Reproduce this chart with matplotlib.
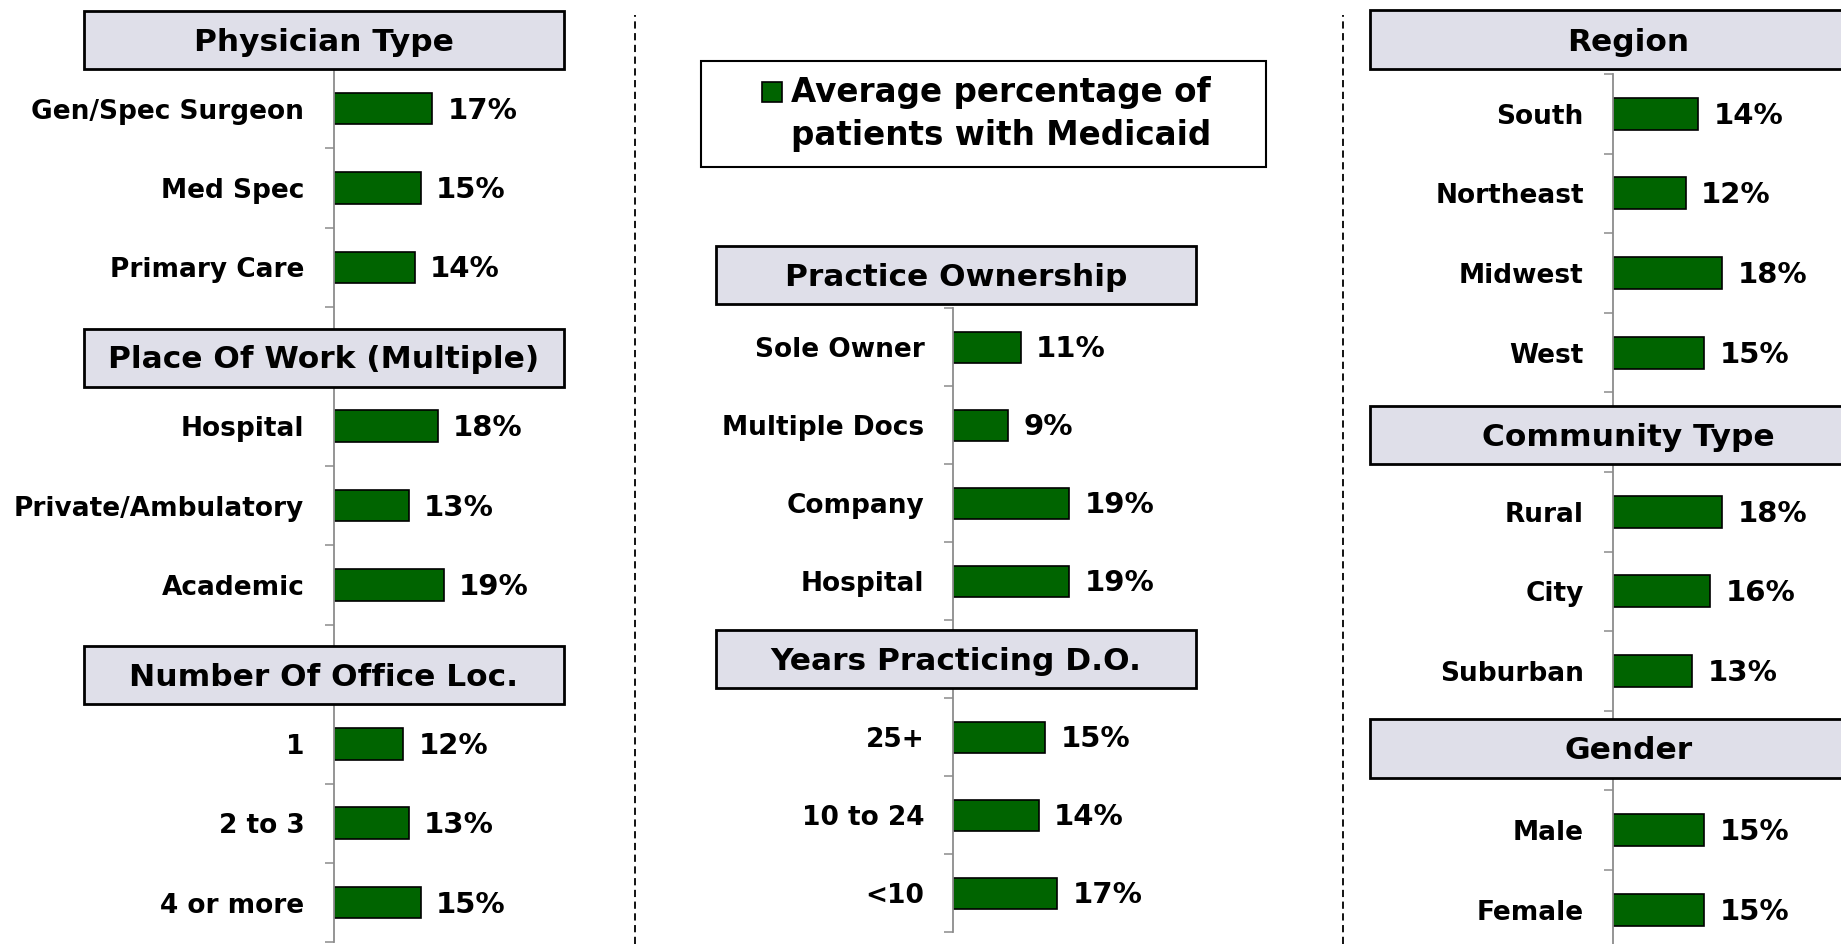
import matplotlib.pyplot as plt
from matplotlib.patches import Rectangle

# values (percent of patients with Medicaid)
phys_labels = ["Gen/Spec Surgeon", "Med Spec", "Primary Care"]
phys_vals = [17, 15, 14]
work_labels = ["Hospital", "Private/Ambulatory", "Academic"]
work_vals = [18, 13, 19]
office_labels = ["1", "2 to 3", "4 or more"]
office_vals = [12, 13, 15]

own_labels = ["Sole Owner", "Multiple Docs", "Company", "Hospital"]
own_vals = [11, 9, 19, 19]
years_labels = ["25+", "10 to 24", "<10"]
years_vals = [15, 14, 17]

region_labels = ["South", "Northeast", "Midwest", "West"]
region_vals = [14, 12, 18, 15]
community_labels = ["Rural", "City", "Suburban"]
community_vals = [18, 16, 13]
gender_labels = ["Male", "Female"]
gender_vals = [15, 15]

legend_label = "Average percentage of\npatients with Medicaid"

GREEN = "#006400"
HEAD_FILL = "#DFDFE9"
AXIS_GRAY = "#8C8C8C"

W, H = 1841, 944
fig = plt.figure(figsize=(W / 100, H / 100), dpi=100)
plt.rcParams['font.family'] = ['DejaVu Sans']


def px_axes(x0, y_top, y_bot, width):
    return fig.add_axes([x0 / W, 1 - y_bot / H, width / W, (y_bot - y_top) / H])


def draw_column(ax, groups, nrows, box_x, box_off):
    # groups: list of (title, labels, values); header takes one row
    pos, labs, vals, heads = [], [], [], []
    r = 0
    for title, labels, values in groups:
        heads.append((r, title))
        r += 1
        for lab, v in zip(labels, values):
            pos.append(r)
            labs.append(lab)
            vals.append(v)
            r += 1

    bars = ax.barh(pos, vals, height=0.4, color=GREEN, edgecolor="black",
                   linewidth=1.2, zorder=2)
    for rect, v in zip(bars, vals):
        ax.annotate(f"{v}%", (rect.get_width(), rect.get_y() + rect.get_height() / 2),
                    xytext=(11, -1.5), textcoords="offset points",
                    ha="left", va="center", fontsize=21, fontweight="bold")

    ax.set_ylim(nrows - 0.5, 0.5)
    ax.set_xlim(0, 30)
    ax.set_yticks(pos)
    ax.set_yticklabels(labs, fontsize=19, fontweight="bold")
    ax.set_yticks([k + 0.5 for k in range(nrows)], minor=True)
    ax.tick_params(axis="y", which="major", length=0, pad=21)
    ax.tick_params(axis="y", which="minor", length=6.5, width=1.1,
                   color=AXIS_GRAY)
    ax.set_xticks([])
    for side in ["top", "right", "bottom"]:
        ax.spines[side].set_visible(False)
    ax.spines["left"].set_color(AXIS_GRAY)
    ax.spines["left"].set_linewidth(1.3)
    ax.patch.set_visible(False)

    for (hr, title), (top, bot) in zip(heads, box_off):
        rect = Rectangle((box_x[0], hr + top), box_x[1] - box_x[0], bot - top,
                         facecolor=HEAD_FILL, edgecolor="black", linewidth=2,
                         clip_on=False, zorder=5)
        ax.add_patch(rect)
        ax.text((box_x[0] + box_x[1]) / 2, hr + (top + bot) / 2 + 0.03, title,
                ha="center", va="center", fontsize=22.5, fontweight="bold",
                zorder=6, clip_on=False)


# left column
ax_l = px_axes(333.5, 68.9, 942.3, 30 * 5.8)
draw_column(ax_l,
            [("Physician Type", phys_labels, phys_vals),
             ("Place Of Work (Multiple)", work_labels, work_vals),
             ("Number Of Office Loc.", office_labels, office_vals)],
            12, (-43.0, 39.7), [(-0.23, 0.5)] * 3)

# middle column
ax_m = px_axes(953.5, 308.3, 932.3, 30 * 6.1)
draw_column(ax_m,
            [("Practice Ownership", own_labels, own_vals),
             ("Years Practicing D.O.", years_labels, years_vals)],
            9, (-38.9, 39.75), [(-0.30, 0.45), (-0.37, 0.37)])

# right column
ax_r = px_axes(1613, 74, 949.6, 30 * 6.08)
draw_column(ax_r,
            [("Region", region_labels, region_vals),
             ("Community Type", community_labels, community_vals),
             ("Gender", gender_labels, gender_vals)],
            12, (-40.0, 45.0), [(-0.30, 0.44), (-0.33, 0.40), (-0.40, 0.34)])

# dashed separators
for xs in [635, 1343]:
    fig.add_artist(plt.Line2D([xs / W, xs / W], [0, 1 - 15 / H],
                              transform=fig.transFigure, color="black",
                              linewidth=1.3, linestyle=(0, (4, 2.5))))

# legend box
fig.add_artist(Rectangle((701 / W, 1 - 167 / H), 565 / W, 106 / H,
                         transform=fig.transFigure, facecolor="white",
                         edgecolor="black", linewidth=1.5))
fig.add_artist(Rectangle((762 / W, 1 - 102 / H), 20 / W, 20 / H,
                         transform=fig.transFigure, facecolor=GREEN,
                         edgecolor="black", linewidth=1.2))
fig.text(791 / W, 1 - 114 / H, legend_label, ha="left", va="center",
         fontsize=23.5, fontweight="bold", linespacing=1.35)

fig.savefig("out.png", dpi=100)
